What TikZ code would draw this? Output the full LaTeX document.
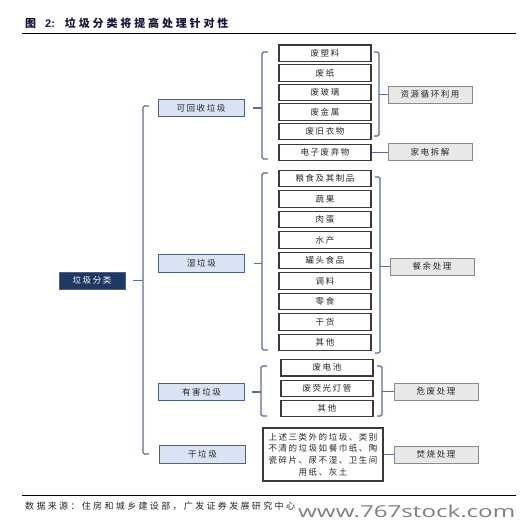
\documentclass[tikz,border=0pt]{standalone}
\usepackage{fontspec}
\usepackage{graphicx}
\setmainfont{Liberation Sans}
\newfontfamily\cjk[LetterSpace=18]{Noto Sans CJK SC}
\newfontfamily\cjkw[LetterSpace=26]{Noto Sans CJK SC}
\newfontfamily\wmfont{Open Sans}
\definecolor{rootf}{HTML}{1F3864}
\definecolor{catf}{HTML}{DAE3F3}
\definecolor{catb}{HTML}{4E6189}
\definecolor{itemb}{HTML}{3A3A3A}
\definecolor{resf}{HTML}{E8E8E8}
\definecolor{resb}{HTML}{8A8A8A}
\definecolor{brkc}{HTML}{5B6D93}
\definecolor{txt}{HTML}{262626}
\definecolor{wm}{HTML}{7F7F7F}
\definecolor{ttl}{HTML}{14143A}
\begin{document}
\begin{tikzpicture}[x=1pt,y=-1pt,
 lbl/.style={font=\cjk\fontsize{8.5}{9}\selectfont, text=txt, inner sep=0pt},
 rootbox/.style={lbl, draw=catb, fill=rootf, text=white, line width=0.8pt, minimum width=66pt, minimum height=17pt},
 catbox/.style={lbl, draw=catb, fill=catf, line width=0.9pt, minimum width=86pt, minimum height=17.5pt},
 itembox/.style={lbl, draw=itemb, fill=white, line width=1.1pt, minimum width=92pt, minimum height=16.5pt},
 resbox/.style={lbl, draw=resb, fill=resf, line width=0.9pt, minimum width=84pt, minimum height=17pt},
 brk/.style={draw=brkc, line width=1.1pt, rounded corners=1.5pt},
 link/.style={draw=brkc, line width=1.1pt},
]
\useasboundingbox (0,0) rectangle (532,532);

% title
\node[anchor=west, inner sep=0, text=ttl] (title) at (25,23) {{\cjkw\bfseries\fontsize{11}{12}\selectfont 图}\hspace{9pt}{\bfseries\fontsize{11}{12}\selectfont 2:}\hspace{10pt}{\cjkw\bfseries\fontsize{11}{12}\selectfont 垃圾分类将提高处理针对性}};
\draw[line width=1pt] (22,34) -- (516,34);

% root and categories
\node[rootbox] (root) at (92,280.5) {垃圾分类};
\node[catbox] (c1) at (201,108) {可回收垃圾};
\node[catbox] (c2) at (201.5,263.5) {湿垃圾};
\node[catbox] (c3) at (201.5,392) {有害垃圾};
\node[catbox] (c4) at (202.5,454.5) {干垃圾};

% big bracket
\draw[brk] (149,106) -- (143,106) -- (143,454) -- (149,454);
\draw[link] ([xshift=8pt]root.east) -- ([xshift=18pt]root.east);

% recyclable items
\node[itembox] (i1) at (325,53.3) {废塑料};
\node[itembox] (i2) at (325,73.2) {废纸};
\node[itembox] (i3) at (325,92.7) {废玻璃};
\node[itembox] (i4) at (325,112) {废金属};
\node[itembox] (i5) at (325,131.5) {废旧衣物};
\node[itembox] (i6) at (325,152.3) {电子废弃物};
\node[resbox] (r1) at (430,94.5) {资源循环利用};
\node[resbox] (r2) at (430,152.3) {家电拆解};
\draw[brk] (268,52) -- (262,52) -- (262,159) -- (268,159);
\draw[link] ([xshift=9pt]c1.east) -- ([xshift=18pt]c1.east);
\draw[brk] (374,52) -- (379,52) -- (379,136) -- (374,136);
\coordinate (m1) at (379,94.5);
\draw[link] (m1) -- (r1.west);
\draw[link] (i6.east) -- (r2.west);

% wet items
\node[itembox] (w1) at (325,178.5) {粮食及其制品};
\node[itembox] (w2) at (325,199) {蔬果};
\node[itembox] (w3) at (325,219.5) {肉蛋};
\node[itembox] (w4) at (325,240) {水产};
\node[itembox] (w5) at (325,260.5) {罐头食品};
\node[itembox] (w6) at (325,281) {调料};
\node[itembox] (w7) at (325,301.5) {零食};
\node[itembox] (w8) at (325,322) {干货};
\node[itembox] (w9) at (325,342.5) {其他};
\node[resbox] (r3) at (432,266.5) {餐余处理};
\draw[brk] (268,173) -- (262,173) -- (262,350) -- (268,350);
\draw[link] ([xshift=9pt]c2.east) -- ([xshift=17.5pt]c2.east);
\draw[brk] (375,177) -- (380,177) -- (380,353) -- (375,353);
\coordinate (m3) at (380,266.5);
\draw[link] (m3) -- (r3.west);

% hazardous items
\node[itembox] (h1) at (327,367.7) {废电池};
\node[itembox] (h2) at (327,388.3) {废荧光灯管};
\node[itembox] (h3) at (327,408.5) {其他};
\node[resbox] (r4) at (436,391.5) {危废处理};
\draw[brk] (267,366) -- (261,366) -- (261,416) -- (267,416);
\draw[link] ([xshift=7pt]c3.east) -- ([xshift=16pt]c3.east);
\draw[brk] (377,366) -- (382,366) -- (382,416) -- (377,416);
\coordinate (m4) at (382,391.5);
\draw[link] (m4) -- (r4.west);

% dry
\node[draw=itemb, line width=1.1pt, fill=white, minimum width=120pt, minimum height=53pt, text width=116pt, align=center, font=\cjk\fontsize{8.5}{11.8}\selectfont, text=txt, inner sep=0pt] (dry) at (323,454.5) {上述三类外的垃圾、类别\\不清的垃圾如餐巾纸、陶\\瓷碎片、尿不湿、卫生间\\用纸、灰土};
\node[resbox] (r5) at (436,454.5) {焚烧处理};
\draw[link] (dry.east) -- (r5.west);

% footer
\draw[line width=0.8pt] (22,495) -- (516,495);
\node[anchor=west, inner sep=0, font=\cjkw\fontsize{9}{10}\selectfont, text=txt] (src) at (25,506.5) {数据来源：住房和城乡建设部，广发证券发展研究中心};
\node[anchor=base west, inner sep=0, text=wm] (wmk) at (298,517) {\resizebox{217pt}{12.5pt}{\wmfont www.767stock.com}};
\end{tikzpicture}
\end{document}
